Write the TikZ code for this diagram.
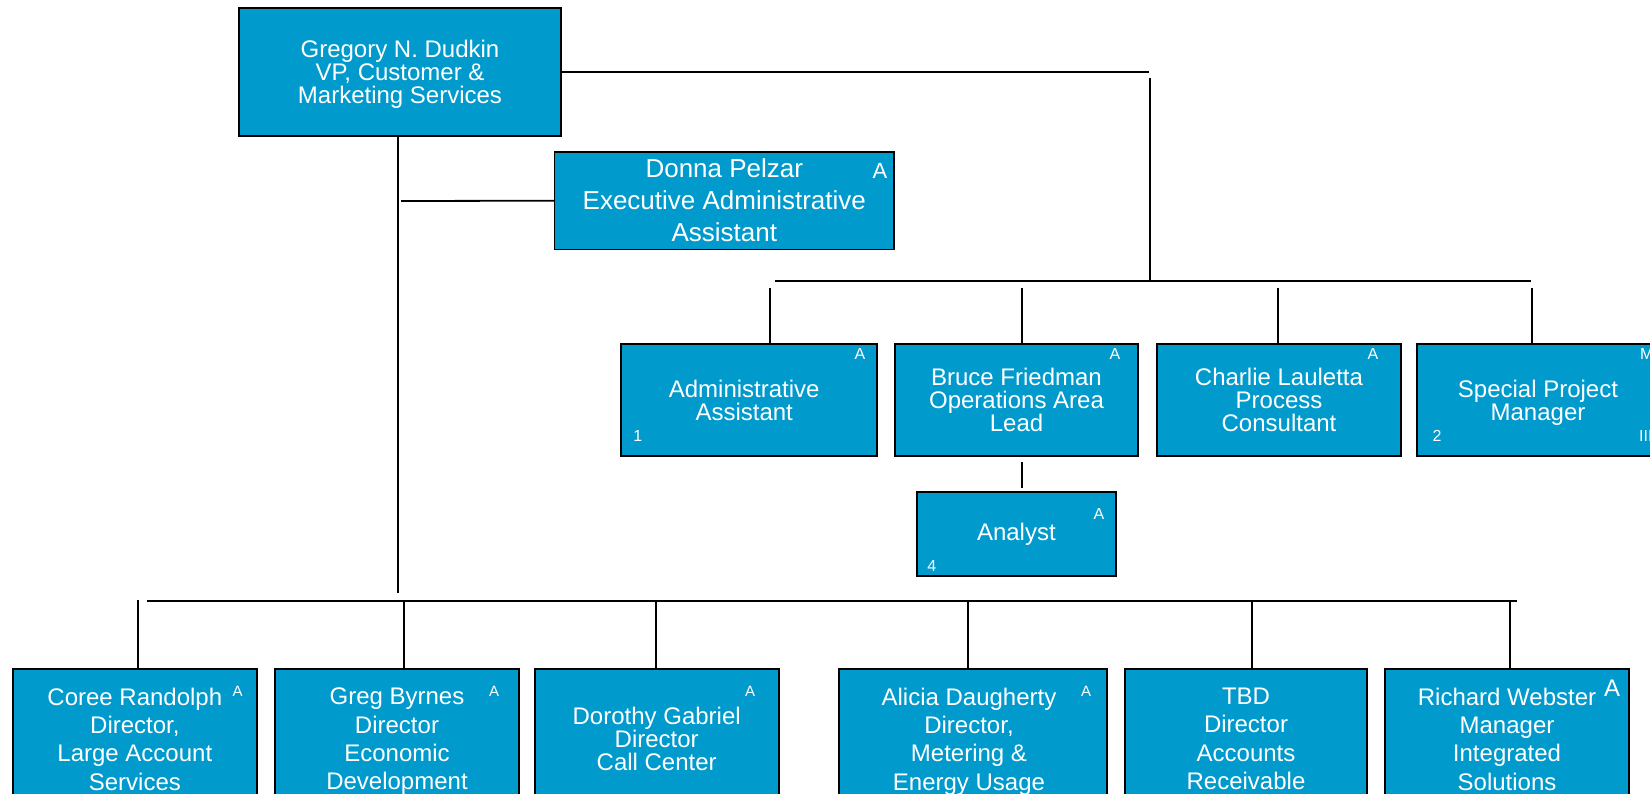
\documentclass[tikz,border=0pt]{standalone}
\usepackage{fontspec}
\setmainfont{Liberation Sans}
\definecolor{boxblue}{RGB}{0,154,205}
\begin{document}
\begin{tikzpicture}[x=1pt,y=-1pt,
  box/.style={rectangle, draw=black, line width=1.6pt, fill=boxblue, text=white, align=center, inner sep=0pt},
  tight/.style={font=\fontsize{24}{23}\selectfont},
  loose/.style={font=\fontsize{24}{28.3}\selectfont},
  donnafont/.style={font=\fontsize{26}{32}\selectfont},
  conn/.style={draw=black, line width=1.8pt},
  tag/.style={text=white, inner sep=0pt, font=\fontsize{16}{16}\selectfont},
  smalltag/.style={text=white, inner sep=0pt, font=\fontsize{15}{15}\selectfont},
  bigtag/.style={text=white, inner sep=0pt, font=\fontsize{24}{24}\selectfont}]
\useasboundingbox (0,0) rectangle (1650,793);
\clip (0,0) rectangle (1650,793);

% ---------- boxes ----------
\node[box, tight, minimum width=322pt, minimum height=128pt] (vp) at (400,71.7)
  {Gregory N. Dudkin\\VP, Customer \&\\\smash{Marketing Services}};
\node[box, donnafont, minimum width=339.4pt, minimum height=97.3pt] (donna) at (724.3,200.7)
  {Donna Pelzar\\Executive Administrative\\Assistant};

\node[box, tight, minimum width=256pt, minimum height=112pt] (admin) at (748.7,400)
  {\hspace*{-9pt}Administrative\\\hspace*{-9pt}Assistant};
\node[box, tight, minimum width=243pt, minimum height=112pt] (bruce) at (1016.5,400)
  {Bruce Friedman\\Operations Area\\Lead};
\node[box, tight, minimum width=244pt, minimum height=112pt] (charlie) at (1279,400)
  {Charlie Lauletta\\Process\\Consultant};
\node[box, tight, minimum width=242pt, minimum height=112pt] (special) at (1538,400)
  {Special Project\\\smash{Manager}};
\node[box, tight, minimum width=199.3pt, minimum height=83.7pt] (analyst) at (1016.35,533.85)
  {Analyst};

\node[box, loose, minimum width=244.3pt, minimum height=140pt] (coree) at (134.85,739)
  {Coree Randolph\\Director,\\Large Account\\Services};
\node[box, loose, minimum width=244pt, minimum height=140pt] (greg) at (397,739)
  {Greg Byrnes\\Director\\Economic\\\smash{Development}};
\node[box, tight, minimum width=244pt, minimum height=140pt] (dorothy) at (656.7,739)
  {Dorothy Gabriel\\Director\\Call Center};
\node[box, loose, minimum width=268pt, minimum height=140pt] (alicia) at (973,739)
  {\hspace*{-8pt}Alicia Daugherty\\\hspace*{-8pt}Director,\\\hspace*{-8pt}Metering \&\\\hspace*{-8pt}\smash{Energy Usage}};
\node[box, loose, minimum width=242pt, minimum height=140pt] (tbd) at (1246,739)
  {TBD\\Director\\Accounts\\Receivable};
\node[box, loose, minimum width=244.3pt, minimum height=140pt] (richard) at (1507,739)
  {Richard Webster\\Manager\\Integrated\\Solutions};

% ---------- corner tags ----------
\node[bigtag, font=\fontsize{22}{22}\selectfont] (tdonna) at (880,171) {A};
\node[tag] (tadminA) at (860,354) {A};
\node[tag] (tadmin1) at (637.7,436) {1};
\node[tag] (tbruceA) at (1115,354) {A};
\node[tag] (tcharlieA) at (1373,354) {A};
\node[tag] (tspecial2) at (1437,435.7) {2};
\node[tag, anchor=west] (tspecialM) at (1640,354) {M};
\node[tag, anchor=west] (tspecialIII) at (1639,435.7) {III};
\node[tag] (tanalystA) at (1099,514.4) {A};
\node[tag] (tanalyst4) at (931.7,566) {4};
\node[smalltag] (tcoree) at (237.7,691) {A};
\node[smalltag] (tgreg) at (494,691) {A};
\node[smalltag] (tdorothy) at (750,691) {A};
\node[smalltag] (talicia) at (1086,691) {A};
\node[bigtag] (trichard) at (1612,688) {A};

% ---------- connector coordinates ----------
\coordinate (topR) at (1149,72.3);
\coordinate (vTop) at (1150,78);
\coordinate (vBot) at (1150,280);
\coordinate (h2L) at (775,280.7);
\coordinate (h2R) at (1531,280.7);
\coordinate (dAdmin) at (770,288);
\coordinate (dBruce) at (1022,288);
\coordinate (dCharlie) at (1278,288);
\coordinate (dSpecial) at (1532,288);
\coordinate (anTop) at (1022,462);
\coordinate (anBot) at (1022,488);
\coordinate (vpBot) at (398,593);
\coordinate (donnaL) at (401,201);
\coordinate (h3L) at (147,601);
\coordinate (h3R) at (1516.7,601);
\coordinate (dCoree) at (137.7,600);
\coordinate (dGreg) at (404,601);
\coordinate (dDorothy) at (656,601);
\coordinate (dAlicia) at (968,601);
\coordinate (dTbd) at (1252,601);
\coordinate (dRichard) at (1510,601);

% ---------- connectors ----------
\draw[conn] (vp.east |- topR) -- (topR);
\draw[conn] (vTop) -- (vBot);
\draw[conn] (h2L) -- (h2R);
\draw[conn] (dAdmin) -- (dAdmin |- admin.north);
\draw[conn] (dBruce) -- (dBruce |- bruce.north);
\draw[conn] (dCharlie) -- (dCharlie |- charlie.north);
\draw[conn] (dSpecial) -- (dSpecial |- special.north);
\draw[conn] (anTop) -- (anBot);
\draw[conn] (vpBot |- vp.south) -- (vpBot);
\draw[conn] (donnaL) -- (donna.west);
\draw[conn] (h3L) -- (h3R);
\draw[conn] (dCoree) -- (dCoree |- coree.north);
\draw[conn] (dGreg) -- (dGreg |- greg.north);
\draw[conn] (dDorothy) -- (dDorothy |- dorothy.north);
\draw[conn] (dAlicia) -- (dAlicia |- alicia.north);
\draw[conn] (dTbd) -- (dTbd |- tbd.north);
\draw[conn] (dRichard) -- (dRichard |- richard.north);
\end{tikzpicture}
\end{document}
